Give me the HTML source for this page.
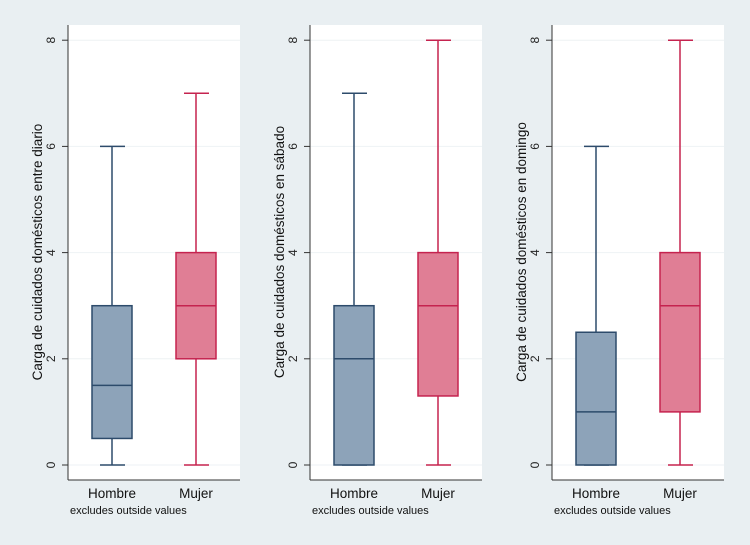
<!DOCTYPE html>
<html><head><meta charset="utf-8"><style>
body{margin:0;background:#e9eff2;}
svg{display:block;font-family:"Liberation Sans",sans-serif;}
</style></head><body>
<svg id="c" width="750" height="545"></svg>
<script>
const panelTitles=["Carga de cuidados domésticos entre diario","Carga de cuidados domésticos en sábado","Carga de cuidados domésticos en domingo"];
const categories=["Hombre","Mujer"];
const yTicks=[0,2,4,6,8];
// [min, q1, median, q3, max]
const hombre=[[0,0.5,1.5,3,6],[0,0,2,3,7],[0,0,1,2.5,6]];
const mujer=[[0,2,3,4,7],[0,1.3,3,4,8],[0,1,3,4,8]];
const svg=document.getElementById('c');
const NS='http://www.w3.org/2000/svg';
function mk(t,a,p){const e=document.createElementNS(NS,t);for(const k in a)e.setAttribute(k,a[k]);(p||svg).appendChild(e);return e;}
const y=v=>465-v*53.1;
const styles=[{fill:'#8da3b9',stroke:'#2d4b6b'},{fill:'#e07e95',stroke:'#c5234f'}];
for(let p=0;p<3;p++){
  const ox=p*242;
  const g=mk('g',{});
  
  
  const bg=mk('rect',{x:68+ox,y:25,width:172,height:455,fill:'#fff'},g);
  
  
  yTicks.forEach(t=>{
    mk('line',{x1:68+ox,x2:240+ox,y1:y(t),y2:y(t),stroke:'#eef2f4','stroke-width':1},g);
    mk('line',{x1:62+ox,x2:68+ox,y1:y(t),y2:y(t),stroke:'#333','stroke-width':1},g);
    const tx=mk('text',{x:0,y:0,transform:`translate(${55+ox},${y(t)}) rotate(-90)`,'text-anchor':'middle','font-size':12,fill:'#222'},g);
    tx.textContent=t;
    
    
  });
  mk('line',{x1:68+ox,x2:68+ox,y1:25,y2:480,stroke:'#333'},g);
  mk('line',{x1:68+ox,x2:240+ox,y1:480,y2:480,stroke:'#333'},g);
  const yt=mk('text',{transform:`translate(${42+ox},252) rotate(-90)`,'text-anchor':'middle','font-size':13.5,fill:'#111'},g);
  yt.textContent=panelTitles[p];
  
  
  [hombre[p],mujer[p]].forEach((d,i)=>{
    const cx=112+i*84+ox, s=styles[i];
    const bx=mk('g',{},g);
    
    
    mk('line',{x1:cx,x2:cx,y1:y(d[0]),y2:y(d[1]),stroke:s.stroke,'stroke-width':1.5},bx);
    mk('line',{x1:cx,x2:cx,y1:y(d[3]),y2:y(d[4]),stroke:s.stroke,'stroke-width':1.5},bx);
    mk('line',{x1:cx-12,x2:cx+13,y1:y(d[0]),y2:y(d[0]),stroke:s.stroke,'stroke-width':1.5},bx);
    mk('line',{x1:cx-12,x2:cx+13,y1:y(d[4]),y2:y(d[4]),stroke:s.stroke,'stroke-width':1.5},bx);
    mk('rect',{x:cx-20,y:y(d[3]),width:40,height:y(d[1])-y(d[3]),fill:s.fill,stroke:s.stroke,'stroke-width':1.5},bx);
    mk('line',{x1:cx-20,x2:cx+20,y1:y(d[2]),y2:y(d[2]),stroke:s.stroke,'stroke-width':1.5},bx);
    const lb=mk('text',{x:cx,y:498,'text-anchor':'middle','font-size':13.5,fill:'#111'},g);
    lb.textContent=categories[i];
    
    
  });
  const note=mk('text',{x:70+ox,y:514,'font-size':11,fill:'#111'},g);
  note.textContent='excludes outside values';
  
  
}
</script>
</body></html>
